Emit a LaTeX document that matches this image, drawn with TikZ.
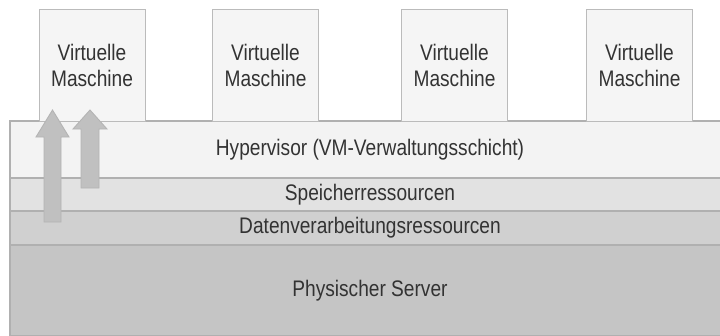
\documentclass[tikz,border=0pt]{standalone}
\usepackage{fontspec}
\setmainfont{Liberation Sans}[FakeStretch=0.85]
\usepackage{xcolor}
\usetikzlibrary{positioning}
\definecolor{vmfill}{HTML}{F5F5F5}
\definecolor{vmline}{HTML}{BBBBBB}
\definecolor{hyperfill}{HTML}{F3F3F3}
\definecolor{storefill}{HTML}{E2E2E2}
\definecolor{computefill}{HTML}{D0D0D0}
\definecolor{serverfill}{HTML}{C5C5C5}
\definecolor{layerline}{HTML}{B0B0B0}
\definecolor{arrowfill}{HTML}{C0C0C0}
\definecolor{arrowline}{HTML}{B4B4B4}
\definecolor{textgray}{HTML}{333333}

\begin{document}
\begin{tikzpicture}[x=1pt,y=-1pt,
	label font/.style={text=textgray, font=\fontsize{22.5}{26}\selectfont},
	layer/.style={label font, draw=layerline, line width=1.3pt, minimum width=720pt, inner sep=0pt, outer sep=0pt},
	vmbox/.style={label font, draw=vmline, fill=vmfill, line width=0.9pt, minimum width=106pt, minimum height=112pt, align=center},
	blockarrow/.style={draw=arrowline, fill=arrowfill, line width=0.9pt, line join=miter}]
\useasboundingbox (0,0) rectangle (720,335);
\node[layer, fill=hyperfill, minimum height=57pt, anchor=north west] (hyper) at (10,121) {Hypervisor (VM-Verwaltungsschicht)};
\node[layer, fill=storefill, minimum height=33pt, below=0pt of hyper] (store) {Speicherressourcen};
\node[layer, fill=computefill, minimum height=34pt, below=0pt of store] (compute) {Datenverarbeitungsressourcen};
\node[layer, fill=serverfill, minimum height=91pt, below=0pt of compute] (server) {Physischer Server};
\foreach \x [count=\i] in {92,265.5,454.5,639.5}
	\node[vmbox] (vm\i) at (\x,65) {Virtuelle\\Maschine};
\draw[blockarrow] (44,222) -- (44,137) -- (36,137) -- (52.5,110) -- (69,137) -- (61,137) -- (61,222) -- cycle;
\draw[blockarrow] (81,188) -- (81,129) -- (73,129) -- (90,110) -- (107,129) -- (99,129) -- (99,188) -- cycle;
\end{tikzpicture}
\end{document}
